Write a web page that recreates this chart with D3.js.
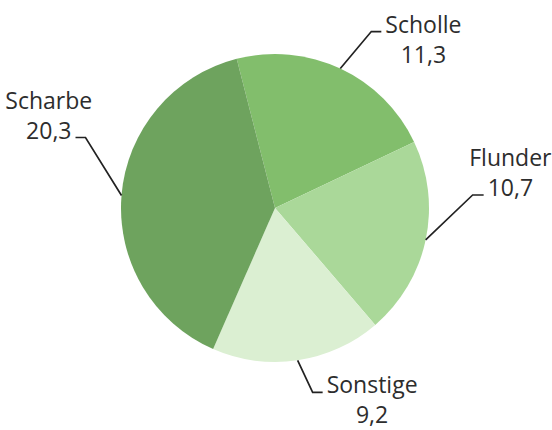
<!DOCTYPE html>
<html>
<head>
<meta charset="utf-8">
<script src="https://cdn.jsdelivr.net/npm/d3@7"></script>
<style>
  body { margin: 0; background: #fff; }
  text { font-family: "Open Sans", Lato, sans-serif; fill: #2d2d2d; }
</style>
</head>
<body>
<div id="chart"></div>
<script>
// data
const categories = ["Scholle", "Flunder", "Sonstige", "Scharbe"];
const values = [11.3, 10.7, 9.2, 20.3];
const colors = ["#82be6c", "#aad899", "#dbefd2", "#6ea35e"];

// label layout: elbow offset from the slice's outer mid point, side of the horizontal tick,
// and which text line the leader joins (0 = name, 1 = value)
const labelLayout = [
  { dx: 31, dy: -37, side: 1, join: 0, tick: 10 },
  { dx: 47, dy: -45, side: 1, join: 1, tick: 11 },
  { dx: 15, dy: 32, side: 1, join: 0, tick: 10 },
  { dx: -36, dy: -58, side: -1, join: 1, tick: 10 }
];

const width = 552, height = 430;
const cx = 275, cy = 208, radius = 154;
const lineGap = 30;

const svg = d3.select("#chart")
  .append("svg")
  .attr("width", width)
  .attr("height", height);

const g = svg.append("g")
  .attr("transform", `translate(${cx},${cy})`);

const data = categories.map((c, i) => ({ name: c, value: values[i], color: colors[i], layout: labelLayout[i] }));

const startA = -14.4 * Math.PI / 180;
const pie = d3.pie()
  .sort(null)
  .value(d => d.value)
  .startAngle(startA)
  .endAngle(startA + 2 * Math.PI);

const arc = d3.arc()
  .innerRadius(0)
  .outerRadius(radius);

const arcs = pie(data);

g.selectAll(".slice")
  .data(arcs)
  .join("path")
  .attr("class", "slice")
  .attr("d", arc)
  .attr("fill", d => d.data.color);

const fmt = v => d3.format(".1f")(v).replace(".", ",");

arcs.forEach(d => {
  const a = (d.startAngle + d.endAngle) / 2;
  const p0 = [radius * Math.sin(a), -radius * Math.cos(a)];
  const L = d.data.layout;
  const p1 = [p0[0] + L.dx, p0[1] + L.dy];
  const p2 = [p1[0] + L.side * L.tick, p1[1]];

  g.append("path")
    .attr("d", d3.line()([p0, p1, p2]))
    .attr("fill", "none")
    .attr("stroke", "#222")
    .attr("stroke-width", 1.7);

  const lines = [d.data.name, fmt(d.data.value)];
  const t = g.append("text")
    .attr("font-size", 23)
    .attr("text-anchor", "middle");
  lines.forEach((s, i) => {
    t.append("tspan")
      .attr("y", p1[1] + (i - L.join) * lineGap + 1)
      .text(s);
  });
  // centre the block next to the tick, based on the joined line's width
  const joined = t.selectAll("tspan").nodes()[L.join];
  const w = joined.getComputedTextLength();
  const tx = p2[0] + L.side * (4 + w / 2);
  t.selectAll("tspan").attr("x", tx);
});
</script>
</body>
</html>
